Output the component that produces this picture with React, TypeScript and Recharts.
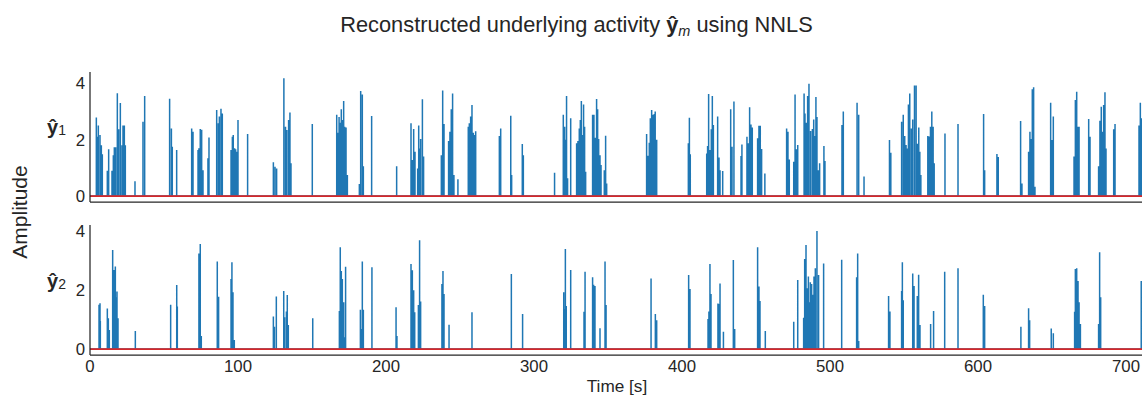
import React from "react";
import { LineChart, Line, XAxis, YAxis, ReferenceLine } from "recharts";

// ---- data ----
const xTicks = [0, 100, 200, 300, 400, 500, 600, 700];
const yTicks = [0, 2, 4];
const xDomain: [number, number] = [0, 711.5];
const y1Domain: [number, number] = [-0.21, 4.4];
const y2Domain: [number, number] = [-0.2, 4.22];

// panel 1: spike times [s] and amplitudes
const y1Times = [
  4.28, 4.95, 5.63, 6.76, 7.66, 8.33, 11.71, 12.61, 14.86, 15.77, 16.44, 17.34, 18.47, 19.37, 20.5, 21.62, 22.3, 23.2, 23.87,
  30.4, 35.8, 36.94, 53.8, 55.0, 55.6, 58.56, 68.7, 69.6, 73.0, 73.6, 74.5, 75.45, 76.35, 79.7, 80.4,
  85.6, 86.7, 87.4, 88.5, 89.4, 95.3, 96.2, 96.8, 97.7, 98.4, 99.1, 100.0, 106.5, 123.9, 125.0, 126.1,
  131.0, 132.1, 133.0, 134.2, 135.1, 135.8, 150.2, 166.7, 167.3, 168.3, 168.9, 169.8, 170.7, 171.4, 172.1, 173.0, 173.9,
  182.0, 182.9, 184.0, 184.7, 190.3, 207.2,
  216.9, 217.8, 218.7, 219.6, 221.4, 222.1, 222.7, 223.4, 224.6, 225.4, 237.4, 238.3, 239.2, 242.3, 243.2, 244.1, 245.0, 245.9, 248.6,
  255.6, 256.3, 257.2, 258.1, 259.0, 259.9, 260.6, 276.6, 277.5, 284.3, 284.9, 292.1, 292.8, 313.9,
  319.8, 320.7, 321.4, 322.0, 322.7, 324.8, 328.8, 329.7, 330.6, 331.3, 332.0, 332.9, 333.5, 334.2, 334.9,
  339.6, 340.5, 341.4, 342.3, 343.0, 343.7, 344.6, 345.3, 347.5, 348.4, 349.1,
  376.1, 377.0, 377.9, 378.6, 379.5, 380.4, 381.3, 381.9, 382.9, 404.3, 405.0, 405.6,
  416.7, 417.3, 418.0, 418.9, 419.8, 420.5, 421.2, 424.1, 425.0, 425.7, 427.5, 432.9, 433.8, 435.1, 439.9, 440.5,
  443.9, 444.8, 445.7, 446.6, 447.5, 451.1, 452.0, 452.9, 453.8, 456.0,
  470.7, 471.6, 472.5, 475.5, 476.4, 477.3, 478.2, 482.5, 483.1, 484.0, 484.9, 485.8, 486.9, 488.1, 489.0, 489.9, 490.5, 491.2, 492.1, 493.0,
  495.9, 496.6, 508.1, 509.0, 518.3, 519.4, 523.0, 540.2, 541.1,
  548.4, 549.5, 550.5, 551.4, 552.0, 553.0, 553.9, 555.0, 555.9, 557.1, 558.2, 559.1, 560.0, 560.7, 561.4,
  566.1, 567.0, 567.9, 568.8, 569.7, 570.4, 577.7, 586.5, 603.8, 604.5, 612.8, 613.7, 628.8, 629.7,
  634.2, 635.1, 636.0, 636.7, 637.6, 638.5, 649.1, 650.0, 650.9, 664.9, 665.8, 666.7, 667.6, 668.3, 674.8, 675.7,
  681.5, 682.4, 683.3, 684.0, 684.9, 685.8, 686.5, 691.7, 692.6, 708.8, 709.7, 710.6,
];
const y1Amps = [
  2.79, 2.1, 2.5, 2.17, 1.8, 1.48, 0.9, 1.66, 0.9, 1.45, 1.73, 1.73, 3.65, 2.37, 3.3, 1.8, 2.5, 2.5, 1.8,
  0.53, 2.64, 3.55, 3.45, 2.4, 1.75, 1.63, 2.4, 2.28, 1.63, 1.7, 2.38, 2.35, 0.92, 1.34, 2.08,
  3.05, 2.58, 2.82, 3.1, 2.93, 1.63, 2.1, 2.17, 1.7, 1.66, 1.57, 2.7, 2.2, 1.2, 1.04, 0.98,
  4.18, 2.46, 2.34, 2.7, 2.96, 1.16, 2.56, 2.88, 2.25, 2.8, 2.6, 3.08, 2.7, 3.37, 2.46, 2.43, 0.75,
  0.43, 3.73, 3.6, 1.06, 2.84, 1.06,
  2.58, 1.28, 2.38, 1.57, 0.98, 2.5, 1.69, 2.02, 3.43, 1.4, 1.45, 3.74, 2.56, 1.95, 2.28, 3.08, 3.64, 0.75, 0.6,
  2.46, 2.58, 2.82, 3.23, 2.25, 2.17, 2.3, 2.13, 2.4, 2.85, 0.75, 1.85, 1.45, 0.83,
  2.88, 2.46, 2.0, 3.55, 0.63, 2.76, 1.87, 1.95, 2.4, 2.7, 3.37, 2.17, 3.25, 2.46, 0.86,
  2.88, 2.88, 2.07, 3.44, 3.08, 2.02, 1.45, 1.1, 0.92, 2.14, 0.45,
  2.2, 1.43, 1.89, 2.76, 3.05, 2.88, 2.91, 3.0, 2.0, 1.87, 2.78, 1.48,
  1.51, 1.78, 3.62, 1.63, 2.37, 3.55, 2.52, 2.82, 1.37, 0.92, 0.89, 3.08, 1.75, 3.35, 1.42, 1.83,
  2.1, 1.87, 3.15, 2.54, 2.43, 2.05, 2.49, 2.49, 1.67, 0.8,
  2.4, 2.28, 1.3, 1.22, 3.6, 1.66, 1.81, 3.64, 2.93, 2.6, 3.55, 3.98, 2.31, 2.38, 2.72, 2.13, 3.51, 2.8, 0.92, 1.16,
  1.78, 1.24, 2.52, 3.0, 3.31, 2.88, 0.69, 1.99, 1.54,
  2.64, 2.88, 2.13, 1.81, 1.69, 3.25, 3.64, 2.4, 2.72, 3.92, 3.92, 1.86, 2.43, 1.57, 0.75,
  2.13, 2.11, 2.46, 3.0, 2.46, 1.16, 2.22, 2.56, 2.91, 0.92, 1.49, 1.39, 2.66, 0.45,
  1.57, 2.28, 2.02, 3.79, 3.86, 0.33, 3.31, 1.99, 2.82, 1.4, 3.41, 3.7, 2.46, 2.46, 2.73, 2.1,
  1.06, 2.67, 3.17, 2.28, 3.23, 3.68, 1.69, 2.37, 2.56, 2.5, 3.31, 2.76,
];

// panel 2: spike times [s] and amplitudes
const y2Times = [
  6.1, 6.76, 6.98, 11.71, 12.39, 13.06, 15.32, 16.22, 17.12, 17.8, 18.24, 18.92, 30.63, 54.5, 58.6, 59.0,
  73.6, 74.5, 75.2, 86.0, 86.9, 95.3, 95.9, 96.6, 97.5, 123.9, 124.6, 125.9, 130.9, 131.5, 132.7, 133.3, 134.0,
  150.5, 168.5, 169.1, 169.8, 170.5, 171.4, 172.1, 172.7, 182.7, 183.4, 184.0, 184.7, 190.5, 206.8, 207.4,
  216.9, 217.8, 218.7, 219.4, 221.9, 222.7, 223.4, 237.8, 238.5, 239.2, 242.6, 258.1, 284.7, 292.3,
  320.1, 320.5, 321.2, 321.8, 324.8, 333.8, 334.5, 339.6, 340.3, 341.2, 344.6, 348.0, 348.7,
  379.1, 382.0, 382.9, 404.5, 405.4, 417.6, 418.2, 418.9, 419.6, 424.3, 425.0, 425.7, 428.0, 434.7, 435.6,
  451.1, 452.0, 452.7, 456.3, 475.5, 478.2,
  482.2, 482.9, 483.8, 484.5, 485.4, 486.1, 486.7, 487.6, 488.3, 489.2, 490.1, 491.2, 492.3, 495.7, 507.9,
  518.0, 518.7, 519.4, 539.6, 540.5, 548.4, 548.9, 549.5, 555.9, 556.8, 559.0, 559.9, 560.8, 568.0, 570.0,
  577.5, 586.5, 603.6, 604.5, 629.0, 634.2, 634.9, 649.5, 650.9,
  665.3, 665.8, 666.7, 667.6, 668.3, 669.2, 681.5, 682.2, 682.9, 710.3,
];
const y2Amps = [
  1.51, 1.56, 0.96, 1.38, 1.05, 0.65, 3.37, 2.69, 2.81, 1.76, 1.96, 1.05, 0.62, 1.51, 2.18, 1.45,
  3.25, 3.57, 0.45, 2.98, 1.78, 2.38, 2.95, 1.93, 0.31, 1.11, 0.76, 1.79, 1.98, 1.08, 1.28, 1.84, 0.82,
  1.05, 1.3, 3.46, 2.66, 2.38, 1.59, 0.4, 2.8, 1.34, 0.68, 2.98, 1.34, 2.78, 1.42, 0.45,
  2.89, 2.68, 2.0, 1.25, 1.5, 3.7, 1.62, 2.21, 2.66, 1.87, 0.83, 1.25, 2.55, 1.19,
  1.93, 1.36, 3.4, 1.47, 2.69, 1.27, 2.63, 2.44, 2.19, 2.15, 0.71, 2.98, 1.5,
  2.4, 1.19, 0.98, 2.52, 2.04, 1.02, 1.28, 2.89, 1.87, 1.55, 1.53, 2.23, 0.59, 3.03, 0.68,
  3.46, 2.13, 1.64, 0.62, 0.93, 2.35,
  1.07, 3.06, 3.54, 2.07, 2.47, 1.59, 2.27, 2.21, 1.85, 2.47, 2.75, 4.02, 2.52, 2.91, 3.04,
  2.44, 3.25, 0.28, 1.81, 1.28, 1.98, 2.95, 1.66, 2.57, 2.15, 1.81, 2.53, 0.82, 0.85, 1.3,
  2.63, 2.75, 1.85, 1.47, 0.76, 1.39, 0.98, 0.7, 0.54,
  1.27, 2.72, 2.75, 2.32, 1.59, 0.85, 0.85, 3.29, 1.76, 2.32,
];

function buildSeries(times: number[], amps: number[]) {
  const out: { t: number; v: number }[] = [{ t: xDomain[0], v: 0 }];
  times.forEach((t, i) => {
    out.push({ t, v: 0 });
    out.push({ t, v: amps[i] });
    out.push({ t, v: 0 });
  });
  out.push({ t: xDomain[1], v: 0 });
  return out;
}

const series1 = buildSeries(y1Times, y1Amps);
const series2 = buildSeries(y2Times, y2Amps);

const FONT = "'Liberation Sans', Arial, Helvetica, sans-serif";
const TXT = "#262626";
const EDGE = "#262626";
const BLUE = "#1f77b4";
const RED = "#d62728";

const tickStyle = { fill: TXT, fontSize: 16.8, fontFamily: FONT };

function Panel({
  data,
  yDomain,
  showXTicks,
  height,
  bottom,
}: {
  data: { t: number; v: number }[];
  yDomain: [number, number];
  showXTicks: boolean;
  height: number;
  bottom: number;
}) {
  return (
    <LineChart
      width={1143}
      height={height}
      data={data}
      margin={{ top: 10, right: 0, bottom, left: 30 }}
    >
      <XAxis
        dataKey="t"
        type="number"
        domain={xDomain}
        allowDataOverflow
        ticks={xTicks}
        tick={showXTicks ? tickStyle : false}
        tickLine={false}
        tickSize={0}
        tickMargin={5}
        height={showXTicks ? 30 : 1}
        axisLine={{ stroke: EDGE, strokeWidth: 1.25 }}
        interval={0}
      />
      <XAxis
        xAxisId="top"
        orientation="top"
        dataKey="t"
        type="number"
        domain={xDomain}
        allowDataOverflow
        tick={false}
        tickLine={false}
        height={0}
        axisLine={{ stroke: EDGE, strokeWidth: 1.25 }}
      />
      <YAxis
        type="number"
        domain={yDomain}
        allowDataOverflow
        ticks={yTicks}
        tick={tickStyle}
        tickLine={false}
        tickSize={0}
        tickMargin={5}
        width={60}
        axisLine={{ stroke: EDGE, strokeWidth: 1.25 }}
        interval={0}
      />
      <Line
        type="linear"
        dataKey="v"
        stroke={BLUE}
        strokeWidth={1.5}
        dot={false}
        activeDot={false}
        isAnimationActive={false}
      />
      <ReferenceLine y={0} stroke={RED} strokeWidth={1.6} ifOverflow="hidden" />
    </LineChart>
  );
}

export default function App() {
  return (
    <div
      style={{
        position: "absolute",
        left: 0,
        top: 0,
        width: 1142,
        height: 396,
        overflow: "hidden",
        background: "#ffffff",
        fontFamily: FONT,
      }}
    >
      <div style={{ position: "absolute", left: 0, top: 62 }}>
        <Panel data={series1} yDomain={y1Domain} showXTicks={false} height={150} bottom={9} />
      </div>
      <div style={{ position: "absolute", left: 0, top: 215 }}>
        <Panel data={series2} yDomain={y2Domain} showXTicks={true} height={170} bottom={0} />
      </div>
      <svg
        width={1142}
        height={396}
        style={{ position: "absolute", left: 0, top: 0, pointerEvents: "none" }}
      >
        <text x={576.5} y={32} textAnchor="middle" fontSize={21.8} fill={TXT} fontFamily={FONT}>
          Reconstructed underlying activity{" "}
          <tspan fontWeight="bold">ŷ</tspan>
          <tspan fontStyle="italic" fontSize={14.5} dy={4}>m</tspan>
          <tspan dy={-4}> using NNLS</tspan>
        </text>
        <text
          x={27}
          y={212}
          textAnchor="middle"
          fontSize={21}
          fill={TXT}
          fontFamily={FONT}
          transform="rotate(-90 27 212)"
        >
          Amplitude
        </text>
        <text x={47} y={134} fontSize={20} fill={TXT} fontFamily={FONT}>
          <tspan fontWeight="bold">ŷ</tspan>
          <tspan fontSize={14} dy={1}>1</tspan>
        </text>
        <text x={47} y={288} fontSize={20} fill={TXT} fontFamily={FONT}>
          <tspan fontWeight="bold">ŷ</tspan>
          <tspan fontSize={14} dy={1}>2</tspan>
        </text>
        <text x={617} y={392} textAnchor="middle" fontSize={17.2} fill={TXT} fontFamily={FONT}>
          Time [s]
        </text>
      </svg>
    </div>
  );
}
